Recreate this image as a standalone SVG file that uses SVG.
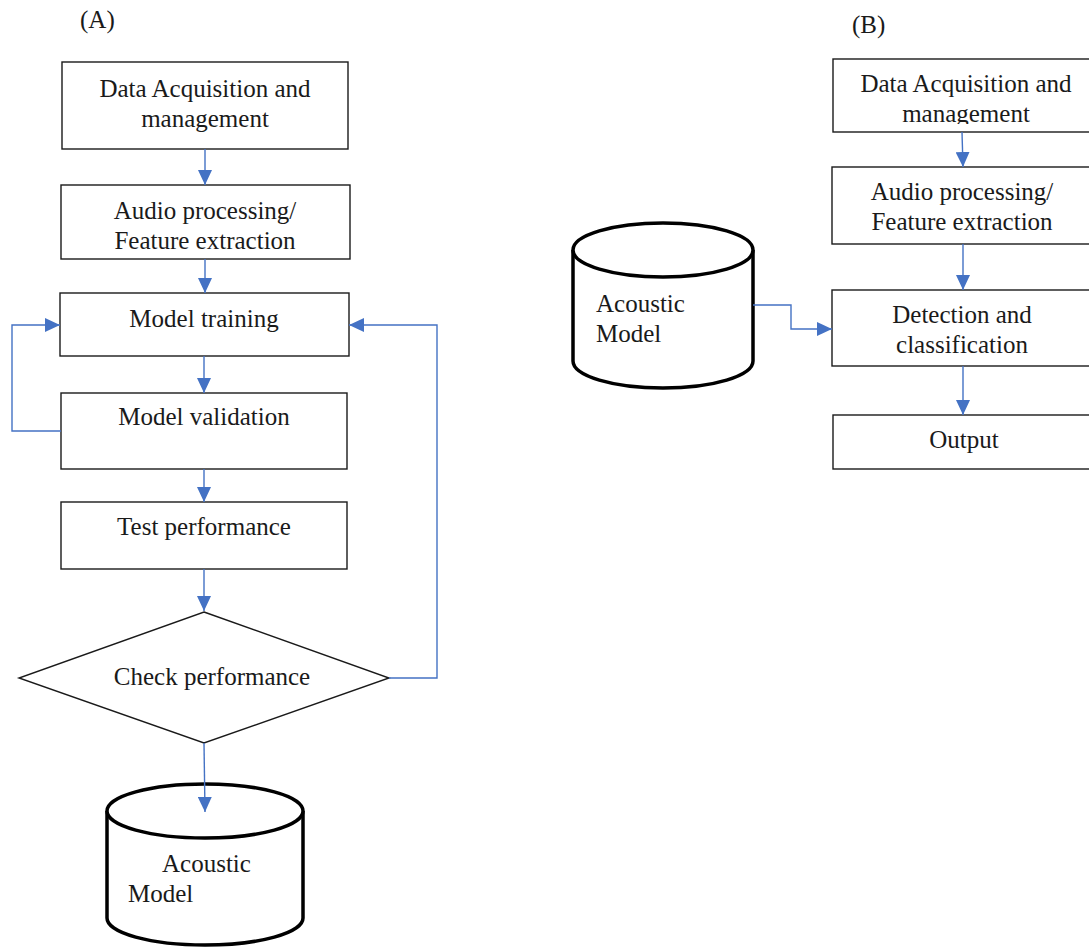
<svg xmlns="http://www.w3.org/2000/svg" width="1089" height="947" viewBox="0 0 1089 947">
<style>
.box{fill:#fff;stroke:#1a1a1a;stroke-width:1.4}
.cyl{fill:#fff;stroke:#000;stroke-width:3.5}
.t{font-family:"Liberation Serif","Times New Roman",serif;font-size:25px;fill:#1a1a1a}
.m{text-anchor:middle}
.c{fill:none;stroke:#4472C4;stroke-width:1.4;marker-end:url(#ah)}
</style>
<defs>
<marker id="ah" markerUnits="userSpaceOnUse" markerWidth="16" markerHeight="14" refX="15" refY="7" orient="auto">
<path d="M0,0 L15,7 L0,14 z" fill="#4472C4"/>
</marker>
<clipPath id="clipB1"><rect x="833" y="59" width="260" height="65"/></clipPath>
</defs>
<rect width="1089" height="947" fill="#fff"/>
<text class="t" x="80" y="28" font-size="23">(A)</text>
<text class="t" x="852" y="33" font-size="23">(B)</text>

<g id="a1"><rect class="box" x="62" y="62" width="286" height="87"/>
<text class="t m" x="205" y="97">Data Acquisition and</text>
<text class="t m" x="205" y="127">management</text></g>
<g id="a2"><rect class="box" x="61" y="185" width="289" height="74"/>
<text class="t m" x="205" y="219">Audio processing/</text>
<text class="t m" x="205" y="249">Feature extraction</text></g>
<g id="a3"><rect class="box" x="60" y="293" width="289" height="63"/>
<text class="t m" x="204" y="327">Model training</text></g>
<g id="a4"><rect class="box" x="61" y="393" width="286" height="76"/>
<text class="t m" x="204" y="425">Model validation</text></g>
<g id="a5"><rect class="box" x="61" y="502" width="286" height="67"/>
<text class="t m" x="204" y="535">Test performance</text></g>
<g id="a6"><polygon class="box" points="204,612 389,678 204,743 19,678"/>
<text class="t m" x="212" y="685">Check performance</text></g>
<g id="a7"><path class="cyl" d="M107,811 V918 A98,27 0 0 0 303,918 V811"/>
<ellipse class="cyl" cx="205" cy="811" rx="98" ry="27"/>
<text class="t" x="162" y="872">Acoustic</text>
<text class="t" x="128" y="902">Model</text></g>

<g id="b1"><rect class="box" x="833" y="59" width="270" height="73"/>
<g clip-path="url(#clipB1)"><text class="t m" x="966" y="92">Data Acquisition and</text>
<text class="t m" x="966" y="122">management</text></g></g>
<g id="b2"><rect class="box" x="832" y="167" width="270" height="77"/>
<text class="t m" x="962" y="200">Audio processing/</text>
<text class="t m" x="962" y="230">Feature extraction</text></g>
<g id="b3"><rect class="box" x="832" y="290" width="270" height="76"/>
<text class="t m" x="962" y="323">Detection and</text>
<text class="t m" x="962" y="353">classification</text></g>
<g id="b4"><rect class="box" x="833" y="415" width="270" height="54"/>
<text class="t m" x="964" y="448">Output</text></g>
<g id="b5"><path class="cyl" d="M573,250 V361 A90,27 0 0 0 753,361 V250"/>
<ellipse class="cyl" cx="663" cy="250" rx="90" ry="27"/>
<text class="t" x="596" y="312">Acoustic</text>
<text class="t" x="596" y="342">Model</text></g>

<g id="connectors">
<path class="c" d="M205,149 V185"/>
<path class="c" d="M205,259 V293"/>
<path class="c" d="M204,356 V393"/>
<path class="c" d="M204,469 V502"/>
<path class="c" d="M204,569 V611"/>
<path class="c" d="M204,743 L205,812"/>
<path class="c" d="M61,431 H12 V325 H60"/>
<path class="c" d="M389,678 H437 V325 H349"/>
<path class="c" d="M962,132 L963,167"/>
<path class="c" d="M963,244 V290"/>
<path class="c" d="M963,366 V415"/>
<path class="c" d="M753,305 H791 V329 H832"/>
</g>
</svg>
